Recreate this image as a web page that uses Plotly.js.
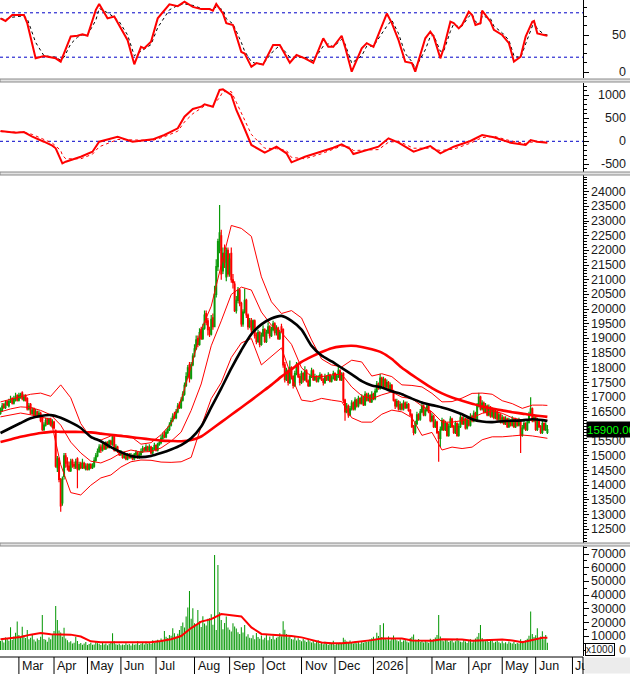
<!DOCTYPE html>
<html><head><meta charset="utf-8">
<script src="https://cdn.plot.ly/plotly-3.0.1.min.js"></script>
<style>html,body{margin:0;padding:0;background:#fff;overflow:hidden}#chart{width:630px;height:674px}</style>
</head><body><div id="chart"></div>
<script>
// ---------- DATA (trading-day index on x) ----------
const months = ['Mar','Apr','May','Jun','Jul','Aug','Sep','Oct','Nov','Dec','2026','','Mar','Apr','May','Jun','Jul'];
const monthStart = [11,32,52,72,93,116,137,157,180,200,223,243,258,280,300,320,342];

const open = [16450,16550,16750,16650,16850,16700,16850,16950,16800,16900,17050,16900,17000,17150,16900,17050,16950,16600,16750,16450,16600,16400,16500,16350,16450,16300,15900,16050,16250,16100,16250,16000,16150,15850,14600,14900,14200,13400,14300,15000,14800,14650,14500,14850,14700,14600,14900,14550,14750,14600,14750,14550,14700,14550,14700,14600,14650,14850,15000,15150,15300,15200,15400,15250,15450,15300,15500,15400,15650,15200,15300,15150,15050,15100,14950,15050,14900,15050,14950,15000,14900,15050,15100,14950,15050,15150,15250,15200,15300,15200,15300,15100,15250,15350,15200,15400,15450,15600,15750,15650,15800,15900,16050,16200,16400,16300,16500,16750,16650,16900,17100,17400,17700,18100,17650,18100,18400,18650,19000,18800,19300,19000,19350,19850,19600,19300,19150,19700,19400,20500,21450,22000,22500,21300,21900,21100,22000,21200,21900,21000,20850,19950,20300,20650,20200,19500,19900,20300,19800,19400,19600,19300,19600,19100,18900,19200,18800,19100,19300,18900,19200,19400,19100,19300,19500,19200,19350,19000,19400,19300,18100,17600,17900,17500,18000,17700,17400,17800,18100,17700,17500,17800,17600,17900,17550,17400,17700,17900,17600,17700,17550,17650,17750,17600,17500,17700,17600,17750,17550,17650,17800,17600,17700,17900,17600,17800,16900,16500,16700,16400,16600,16800,16600,16900,16700,16950,16800,17000,16750,17100,16900,17050,16850,17100,16950,17200,17450,17300,17650,17400,17600,17350,17500,17250,17400,17200,16900,16700,16850,16600,16750,16600,16800,16650,16750,16550,16400,16000,15800,16100,16400,16250,16500,16700,16400,16550,16700,16500,16200,16350,16000,16150,15800,15600,15900,16200,15900,16100,15700,16000,16250,16000,15800,16100,15700,16000,16300,16100,16250,15950,16200,16050,16350,16200,16450,16250,16700,17000,16600,16800,16500,16700,16400,16650,16350,16550,16300,16500,16250,16400,16150,16300,16100,16250,16000,16200,16050,16250,16000,16200,16050,16200,15700,15950,16100,15900,16150,16400,16600,16200,16300,15900,16200,16000,15800,16100,15900,15800];
const high = [16650,16800,16800,16900,16900,16950,17050,17000,17050,17150,17100,17150,17150,17200,17100,17100,17000,16800,16800,16650,16650,16600,16550,16550,16500,16350,16150,16300,16300,16300,16300,16250,16200,15900,15000,14950,14250,14300,15100,15100,14950,14800,14900,14900,14800,14900,14950,14800,14800,14900,14800,14750,14750,14750,14750,14750,14950,15100,15250,15400,15400,15450,15450,15500,15500,15550,15550,15700,15700,15400,15350,15200,15200,15150,15150,15100,15100,15100,15100,15050,15100,15200,15150,15150,15250,15350,15300,15400,15350,15400,15350,15300,15450,15400,15450,15550,15700,15800,15850,15900,16000,16150,16300,16450,16500,16600,16800,16850,17000,17200,17500,17850,18100,18200,18200,18500,18800,19100,19100,19350,19400,19500,19950,19950,19700,19400,19800,19850,20800,21700,22400,23550,22700,22100,22200,22100,22100,21900,22100,21200,20950,20450,20750,20700,20250,20000,20700,20350,19850,19700,19700,19650,19650,19200,19300,19250,19200,19450,19350,19300,19550,19450,19400,19600,19550,19450,19400,19300,19500,19350,18200,18000,17950,18250,18050,17750,17900,18200,18150,17800,17900,17850,18050,17950,17600,17800,18000,17950,17800,17750,17750,17850,17800,17650,17800,17750,17850,17800,17750,17900,17850,17800,18050,17950,17850,17850,16950,16800,16750,16700,16900,16850,17000,16950,17050,17000,17100,17050,17200,17150,17150,17100,17200,17150,17300,17550,17500,17800,17700,17700,17650,17600,17550,17500,17450,17250,16950,16950,16900,16850,16800,16900,16850,16850,16800,16600,16450,16050,16200,16500,16450,16600,16800,16750,16650,16800,16750,16550,16450,16400,16250,16200,15850,16000,16300,16250,16200,16150,16100,16350,16300,16050,16200,16150,16100,16450,16350,16350,16300,16300,16250,16450,16400,16550,16500,16800,17150,17050,16900,16850,16800,16750,16750,16700,16650,16600,16600,16550,16500,16450,16400,16350,16350,16300,16300,16250,16350,16300,16300,16250,16300,16250,16050,16200,16150,16250,16500,17000,16650,16400,16350,16300,16250,16050,16200,16150,16150,16050];
const low = [16400,16500,16600,16600,16700,16650,16800,16750,16750,16850,16850,16850,16950,16900,16850,16850,16550,16550,16400,16400,16350,16350,16300,16300,16150,15850,15850,16000,16050,16050,16000,15950,15900,14600,14450,14100,13100,13300,14200,14600,14500,14450,14450,14600,14550,14550,13900,14500,14550,14550,14550,14500,14500,14500,14550,14550,14600,14800,14950,15100,15100,15150,15200,15200,15250,15250,15350,15350,15150,15150,15100,15000,15000,14900,14900,14850,14850,14900,14900,14850,14850,15000,14900,14900,15000,15100,15150,15150,15150,15150,15050,15050,15200,15150,15150,15350,15400,15550,15600,15600,15750,15850,16000,16150,16250,16250,16450,16600,16600,16850,17050,17350,17650,17500,17600,18050,18350,18600,18700,18750,18950,18950,19300,19450,19100,19050,19100,19300,19400,20400,21300,21900,21000,21200,21400,20950,21100,21100,20900,20700,19900,19850,20200,20100,19400,19400,19850,19700,19300,19350,19200,19250,19000,18800,18850,18700,18750,19050,18850,18850,19150,19000,19050,19250,19100,19100,18950,18950,19200,18000,17500,17550,17400,17450,17600,17300,17350,17750,17650,17400,17450,17500,17550,17500,17350,17350,17650,17550,17550,17500,17500,17600,17550,17400,17450,17550,17550,17500,17500,17600,17550,17550,17650,17550,17550,16800,16200,16450,16300,16350,16550,16550,16550,16650,16650,16750,16750,16700,16700,16850,16850,16800,16800,16900,16900,17150,17250,17250,17350,17350,17300,17300,17200,17200,17150,16850,16600,16650,16550,16550,16550,16550,16600,16600,16500,16350,15950,15700,15750,16050,16200,16200,16450,16350,16350,16500,16450,16150,16150,15950,15950,15750,14800,15300,15850,15850,15850,15650,15650,15950,15950,15750,15750,15650,15650,15950,16050,16050,15900,15900,16000,16000,16150,16150,16200,16200,16650,16550,16550,16450,16450,16350,16350,16300,16300,16250,16250,16200,16200,16100,16100,16050,16050,15950,15950,16000,16000,15950,15950,16000,16000,15100,15650,15900,15850,15850,16100,16350,16150,16150,15850,15850,15950,15750,15750,15850,15850,15750];
const close = [16550,16700,16650,16800,16750,16850,16900,16800,16950,17000,16900,17050,17100,16950,17000,16900,16600,16700,16450,16550,16400,16500,16350,16450,16200,15900,16050,16200,16100,16250,16050,16150,15950,14650,14900,14200,13300,14200,15000,14750,14650,14500,14800,14700,14650,14800,14550,14700,14600,14750,14600,14650,14550,14700,14600,14650,14850,15000,15150,15300,15200,15350,15250,15450,15300,15500,15400,15650,15200,15300,15150,15050,15100,14950,15050,14900,15000,14950,15000,14900,15050,15100,14950,15050,15150,15250,15200,15300,15200,15300,15100,15250,15350,15200,15400,15450,15600,15700,15650,15800,15900,16050,16200,16350,16300,16500,16700,16650,16900,17100,17400,17700,18000,17650,18100,18400,18650,18950,18800,19200,19000,19350,19800,19550,19300,19150,19650,19400,20500,21450,22300,22600,21200,21900,21600,22000,21200,21700,21000,20900,19950,20300,20650,20200,19500,19900,20300,19800,19400,19600,19300,19600,19100,18900,19200,18800,19100,19300,18900,19200,19400,19100,19300,19500,19200,19350,19000,19200,19300,18100,17600,17900,17500,18000,17700,17400,17800,18100,17700,17500,17800,17600,17900,17550,17400,17700,17900,17600,17700,17550,17650,17750,17600,17500,17700,17600,17750,17550,17650,17800,17600,17700,17900,17600,17750,16900,16500,16700,16400,16600,16800,16600,16900,16700,16950,16800,17000,16750,17100,16900,17050,16850,17100,16950,17200,17450,17300,17650,17400,17600,17350,17500,17250,17400,17200,16900,16700,16850,16600,16750,16600,16800,16650,16750,16550,16400,16000,15800,16100,16400,16250,16500,16700,16400,16550,16700,16500,16200,16350,16000,16150,15800,15600,15900,16200,15900,16100,15700,16000,16250,16000,15800,16100,15700,16000,16300,16100,16250,15950,16200,16050,16350,16200,16450,16250,16700,17000,16600,16800,16500,16700,16400,16650,16350,16550,16300,16500,16250,16400,16150,16300,16100,16250,16000,16200,16050,16250,16000,16200,16050,16200,15700,15950,16100,15900,16150,16400,16600,16200,16300,15900,16200,16000,15800,16100,15900,16050,15900];
const volume = [6500,7200,5400,9100,8200,6800,16500,7400,9800,12500,20700,11000,
9300,17000,10800,8700,14500,7900,9000,11200,7600,6200,8400,7300,
9600,25500,8100,7400,6000,9200,7800,11500,13800,32100,21900,14200,
12800,9600,16300,8400,7100,5600,6300,4800,5200,9700,6600,4300,
5100,3900,4700,5800,3600,4400,5200,3800,4100,6200,5000,4600,
3700,5300,4000,4800,3500,4500,5900,12200,6400,4200,3900,4600,
3400,4100,3600,5000,3800,4400,3200,4700,3900,4200,6300,3700,
4500,5200,4000,6000,4600,5400,4300,7200,5100,6800,7500,6100,
8300,7200,13900,9600,8800,11000,10400,15800,12300,9700,11800,14600,
17500,20000,16400,24500,31000,43000,22800,30400,19500,18200,29200,21000,
16800,24600,19300,17800,22700,23100,26000,18500,69300,14600,62000,27500,
21800,15200,19700,24500,16400,14800,13500,19500,17200,15600,13000,11700,
16500,12800,18200,9800,11500,9000,8600,10700,7800,12400,9500,8200,
10600,7600,8900,11300,7200,9800,8100,10400,7700,8900,9600,12300,
10100,21000,14800,11700,9300,10800,8000,7600,9400,6900,8600,7300,
6400,8100,7000,5900,7600,6300,5400,6800,4900,5800,7200,4500,
5300,4200,6100,4800,3900,5600,4400,6700,3800,5100,4600,5500,
4300,9000,7400,6200,5100,6900,5400,4700,6300,5000,5800,4600,
6600,5200,7100,5900,6400,7800,8500,9600,7300,12600,10200,18200,
9400,19500,8800,7600,9900,7000,8300,10500,8600,7200,6400,7900,
5800,6900,7500,6200,5400,8800,9700,11300,7400,6600,8100,5900,
6800,5500,7300,6000,5200,8200,6700,7900,9100,11000,25500,9800,
7200,6300,8000,7400,5900,6800,7600,5500,6400,8500,7000,6100,
5700,7300,6200,5100,6600,7800,5400,6900,8300,9700,12400,18200,
8700,7200,6400,7900,5800,6700,7400,5300,6100,6900,5600,4900,
6300,5000,5700,4600,6200,5300,4800,5900,4400,5100,4700,7800,
6500,5400,7100,8200,10300,28000,11600,9400,10700,15800,8600,9900,
13600,7800,10900,5200];

// indicator lines, sampled every 6 trading days
const lineIdx = [0,6,12,18,24,30,36,42,48,54,60,66,72,78,84,90,96,102,108,114,120,126,132,138,144,150,156,162,168,174,180,186,192,198,204,210,216,222,228,234,240,246,252,258,264,270,276,282,288,294,300,306,312,318,324,327];
const maBlack = [15780,15950,16120,16280,16360,16390,16300,16140,15950,15650,15500,15300,15130,15000,14960,15000,15100,15220,15370,15600,16000,16650,17300,17980,18600,19150,19480,19680,19770,19600,19300,18750,18420,18220,18000,17780,17550,17400,17330,17200,17100,16950,16820,16730,16650,16550,16420,16250,16170,16150,16180,16200,16210,16250,16220,16190];
const maRed = [15470,15560,15650,15720,15780,15820,15820,15820,15815,15800,15760,15720,15680,15640,15600,15560,15520,15510,15500,15540,15660,15900,16150,16400,16650,16900,17160,17420,17700,17950,18200,18380,18540,18670,18730,18750,18710,18630,18520,18300,18000,17760,17530,17310,17130,16990,16880,16780,16680,16610,16550,16490,16440,16390,16350,16330];
const bbUp = [16840,16920,17010,17100,17140,17030,17420,16980,16100,15620,15540,15680,15710,15660,15400,15450,15720,16100,16900,18050,19300,20100,21500,22850,22750,22480,21100,20250,19850,19950,19700,18950,18300,18100,18030,18260,18200,17720,17800,17700,17420,17400,17350,17130,16840,16850,16970,17130,17140,17100,16880,16780,16620,16730,16730,16720];
const bbMid = [16500,16600,16670,16650,16550,16400,16050,15470,15100,14820,14760,14900,15100,15200,15130,15150,15270,15500,15810,16550,17450,18750,19600,20500,20750,20650,19900,19450,19200,18800,18000,17700,17700,17760,17780,17350,17050,16950,17080,17180,17000,16950,16700,16500,16150,16150,16200,16300,16450,16530,16450,16300,16220,16220,16220,16220];
const bbLow = [16330,16400,16460,16400,16330,16250,14700,13750,13670,14000,14250,14350,14620,14800,14860,14850,14790,14780,14800,14950,16000,16950,17500,18350,18850,19000,18100,18400,18680,17700,16900,16850,16960,16900,16850,16300,16150,16150,16420,16560,16500,16300,15700,15800,15200,15300,15250,15300,15550,15650,15650,15680,15710,15680,15620,15600];
const volMA = [7800,8400,9500,11200,12300,11500,11300,11200,9800,6300,5600,5600,5500,5400,5300,5600,6500,7800,10200,16000,20700,22500,26200,25200,24500,16500,11700,11200,10800,10200,9200,7300,5500,5000,4900,5400,6100,7200,8300,8500,8300,7000,6800,6800,7800,7800,7700,6700,6900,7300,7700,7000,5600,7300,9000,9000];

// oscillator (top panel)
const rsiIdx = [0,3,7,14,16,21,26,33,36,38,42,46,49,52,57,59,64,68,71,76,80,84,86,90,94,101,106,110,115,120,125,127,129,133,135,139,144,146,150,153,157,163,167,173,177,182,187,193,196,199,204,206,210,216,219,223,231,234,238,242,246,248,254,257,259,263,265,269,271,274,276,280,282,284,287,288,293,295,300,304,307,311,314,318,319,321,325,327];
const rsiVal = [72.5,69,77,77,66,18.5,21.6,18.5,14,25,48,49,51,49,84,92,72.5,75,63.5,43,10.4,34,32,41,72.5,91.5,89,95,88,85,85,83,92,79,66,63.5,27,25,7,12,10,36.5,36.5,12.5,23,18.5,12.5,45.5,34,34,49,34,0.5,32,39,34,79,66,43,14,12,0.5,45.5,54.5,48,18.5,32,68,66,59,63.5,81.5,77,63.5,66,83,68,57,50,39,14,20.7,48,68,69,52,50,49];
const rsiSig = [72,71,74,76,72,40,22,20,16,20,38,47,50,50,70,86,80,74,68,50,22,28,31,37,60,84,90,92,90,86,85,84,88,84,72,65,40,28,14,11,11,28,36,20,20,20,15,35,38,34,44,38,12,22,35,35,62,70,52,25,14,5,30,48,50,28,28,55,65,61,62,75,78,68,65,76,72,62,53,43,22,19,38,60,68,58,51,50];

// MACD (second panel)
const macdIdx = [0,9,14,19,26,31,33,36,37,39,48,55,59,70,79,91,98,106,110,115,120,122,127,131,133,138,141,145,150,158,165,171,174,182,192,199,204,209,211,226,232,238,247,257,263,271,281,288,295,305,314,317,321,327];
const macdVal = [224,187,200,100,-9,-96,-152,-370,-478,-443,-335,-226,-9,100,-9,43,137,283,535,702,752,804,752,1115,1130,1006,680,354,-80,-248,-117,-261,-457,-335,-226,-139,-65,-167,-276,-117,65,-30,-226,-102,-261,-117,7,137,87,-30,-80,28,-9,-30];
const macdSig = [210,200,195,150,40,-40,-100,-200,-300,-380,-380,-280,-120,40,30,20,100,220,420,600,720,770,780,950,1080,1080,850,550,150,-150,-160,-200,-350,-380,-270,-170,-100,-130,-200,-180,-20,0,-150,-150,-200,-170,-40,80,110,10,-50,-20,-10,-20];

// axis ticks (16000 label sits behind the last-price box in the reference)
const rsiTicks = [0,50];
const macdTicks = [-500,0,500,1000];
const priceTicks = [12500,13000,13500,14000,14500,15000,15500,16000,16500,17000,17500,18000,18500,19000,19500,20000,20500,21000,21500,22000,22500,23000,23500,24000];
const priceLabels = [12500,13000,13500,14000,14500,15000,15500,16500,17000,17500,18000,18500,19000,19500,20000,20500,21000,21500,22000,22500,23000,23500,24000];
const volTicks = [0,10000,20000,30000,40000,50000,60000,70000];

// ---------- sanity check ----------
const n = close.length;
[open,high,low,volume].forEach((a,k)=>{ if(a.length!==n) throw new Error('length mismatch '+k+': '+a.length+' vs '+n); });
[maBlack,maRed,bbUp,bbMid,bbLow,volMA].forEach((a,k)=>{ if(a.length!==lineIdx.length) throw new Error('line mismatch '+k+': '+a.length); });
if(rsiVal.length!==rsiIdx.length||rsiSig.length!==rsiIdx.length) throw new Error('rsi mismatch');
if(macdVal.length!==macdIdx.length||macdSig.length!==macdIdx.length) throw new Error('macd mismatch');

// ---------- layout helpers ----------
const idx = close.map((_,i)=>i);
const PH = 657, PW = 583;
const py = p => (PH - p) / PH;
const px = p => p / PW;
const GREEN = '#0a9a0a', RED = '#ff0000';
const FONT = 'Liberation Sans, Arial, sans-serif';

const traces = [
  {x:rsiIdx, y:rsiSig, xaxis:'x', yaxis:'y', mode:'lines', line:{color:'#000', width:1, dash:'dot'}},
  {x:rsiIdx, y:rsiVal, xaxis:'x', yaxis:'y', mode:'lines', line:{color:RED, width:2}},
  {x:macdIdx, y:macdSig, xaxis:'x', yaxis:'y2', mode:'lines', line:{color:RED, width:1, dash:'dot'}},
  {x:macdIdx, y:macdVal, xaxis:'x', yaxis:'y2', mode:'lines', line:{color:RED, width:2}},
  {type:'candlestick', x:idx, open:open, high:high, low:low, close:close, xaxis:'x', yaxis:'y3',
   whiskerwidth:0,
   increasing:{line:{color:GREEN, width:1.2}, fillcolor:GREEN},
   decreasing:{line:{color:RED, width:1.2}, fillcolor:RED}},
  {x:lineIdx, y:bbUp, xaxis:'x', yaxis:'y3', mode:'lines', line:{color:RED, width:1}},
  {x:lineIdx, y:bbMid, xaxis:'x', yaxis:'y3', mode:'lines', line:{color:RED, width:1}},
  {x:lineIdx, y:bbLow, xaxis:'x', yaxis:'y3', mode:'lines', line:{color:RED, width:1}},
  {x:lineIdx, y:maRed, xaxis:'x', yaxis:'y3', mode:'lines', line:{color:RED, width:2.6, shape:'spline', smoothing:0.6}},
  {x:lineIdx, y:maBlack, xaxis:'x', yaxis:'y3', mode:'lines', line:{color:'#000', width:2.6, shape:'spline', smoothing:0.6}},
  {type:'bar', x:idx, y:volume, xaxis:'x', yaxis:'y4', marker:{color:GREEN, line:{width:0}}, width:0.62},
  {x:lineIdx, y:volMA, xaxis:'x', yaxis:'y4', mode:'lines', line:{color:RED, width:2}}
];

function yax(dom, rng, tv, minor){
  return {domain:dom, range:rng, side:'right', anchor:'x', showgrid:false, zeroline:false,
    showline:true, linecolor:'#000', linewidth:1, ticks:'outside', ticklen:5, tickwidth:1, tickcolor:'#000',
    tickvals:tv, showticklabels:false, fixedrange:true,
    minor:Object.assign({ticks:'outside', ticklen:3, tickcolor:'#000', tickwidth:1, showgrid:false}, minor)};
}

const annotations = [];
const lab = (yref, v) => annotations.push({xref:'paper', yref:yref, x:px(628), y:v, xanchor:'right', yanchor:'middle',
  text:String(v), showarrow:false, font:{family:FONT, size:12.5, color:'#1a1a1a'}});
rsiTicks.forEach(v=>lab('y', v));
macdTicks.forEach(v=>lab('y2', v));
priceLabels.forEach(v=>lab('y3', v));
volTicks.forEach(v=>lab('y4', v));

// last price box
annotations.push({xref:'paper', yref:'y3', x:px(586), y:close[n-1], xanchor:'left', yanchor:'middle',
  text:close[n-1].toFixed(2), showarrow:false, bgcolor:'#000', borderpad:0, height:15,
  font:{family:FONT, size:11.5, color:'#00ff00'}});
// x1000 box
annotations.push({xref:'paper', yref:'paper', x:px(584.5), y:py(656), xanchor:'left', yanchor:'bottom',
  text:'x1000', showarrow:false, bgcolor:'#fff', bordercolor:'#000', borderwidth:1, borderpad:0,
  font:{family:FONT, size:10, color:'#1a1a1a'}});

const shapes = [];
months.forEach((m,k)=>{
  shapes.push({type:'line', xref:'x', yref:'paper', x0:monthStart[k], x1:monthStart[k], y0:py(674), y1:py(657),
    line:{color:'#000', width:1}});
  if(m) annotations.push({xref:'x', yref:'paper', x:monthStart[k], xshift:1, y:py(666), xanchor:'left', yanchor:'middle',
    text:m, showarrow:false, font:{family:FONT, size:12.5, color:'#111'}});
});
annotations.push({xref:'paper', yref:'paper', x:px(584), y:py(674), xanchor:'left', yanchor:'bottom',
  text:' ', width:46, height:15, showarrow:false, bgcolor:'#ececec', borderpad:0});

shapes.push({type:'line', xref:'paper', yref:'paper', x0:0, x1:1, y0:py(657), y1:py(657), line:{color:'#000', width:1}});
shapes.push({type:'line', xref:'paper', yref:'paper', x0:1, x1:1, y0:py(674), y1:py(657), line:{color:'#000', width:1}});
[[79,82],[172,175],[543,546]].forEach(([a,b])=>{
  shapes.push({type:'rect', xref:'paper', yref:'paper', x0:0, x1:px(631), y0:py(b), y1:py(a),
    fillcolor:'#e2e2e2', line:{color:'#8a8a8a', width:1}, layer:'above'});
});
[['y',20],['y',80],['y2',0]].forEach(([ax,v])=>{
  shapes.push({type:'line', xref:'paper', yref:ax, x0:0, x1:1, y0:v, y1:v,
    line:{color:'#0000c8', width:1, dash:'3px,3px'}, layer:'below'});
});

const layout = {
  width:630, height:674, autosize:false,
  margin:{l:0, r:47, t:0, b:17, pad:0},
  paper_bgcolor:'#fff', plot_bgcolor:'#fff',
  showlegend:false, hovermode:false, bargap:0.3,
  xaxis:{domain:[0,1], range:[-0.3,348.3], anchor:'y4', showgrid:false, zeroline:false, showline:false,
    ticks:'', showticklabels:false, rangeslider:{visible:false}, fixedrange:true},
  yaxis: yax([py(78), py(0)], [-8.1, 97.3], rsiTicks, {tickvals:[12.5,25,37.5,62.5,75,87.5]}),
  yaxis2: yax([py(172), py(83)], [-667, 1267], macdTicks, {dtick:100}),
  yaxis3: yax([py(543), py(175)], [12033, 24569], priceTicks, {dtick:100}),
  yaxis4: yax([py(656), py(546)], [-4375, 75833], volTicks, {dtick:5000}),
  shapes:shapes, annotations:annotations
};

Plotly.newPlot('chart', traces, layout, {displayModeBar:false, staticPlot:true});
</script>
</body></html>
